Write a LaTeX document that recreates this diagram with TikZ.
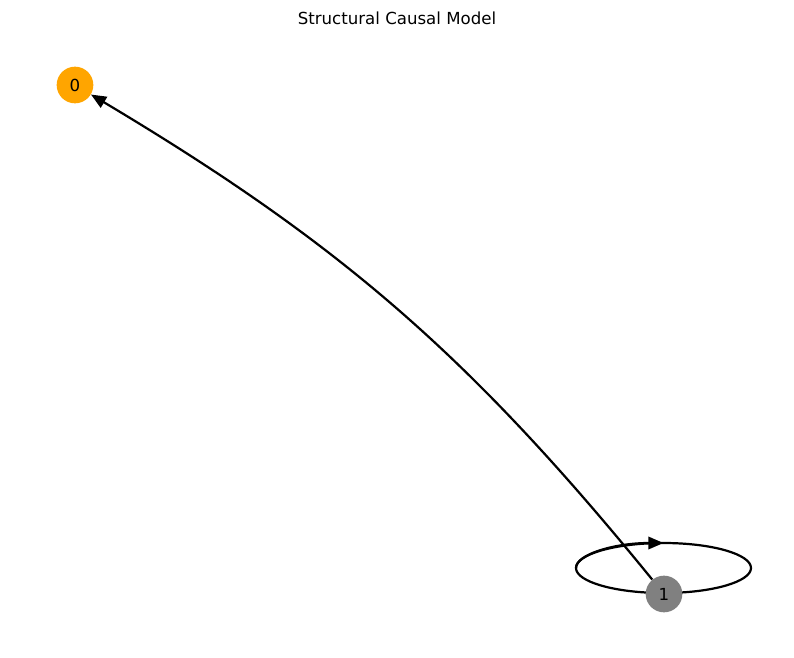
\documentclass[tikz,border=0pt]{standalone}
\usepackage{fontspec}
\setmainfont{DejaVu Sans}
\usepackage{tikz}
\usetikzlibrary{arrows.meta,backgrounds}

\definecolor{nxorange}{HTML}{FFA500}
\definecolor{nxgray}{HTML}{808080}

\begin{document}
\begin{tikzpicture} [x = 0.254mm, y = -0.254mm,
	var/.style = {circle,
		minimum size = 26.5pt,
		inner sep = 0pt,
		font = \fontsize{12}{14}\selectfont},
	link/.style = {line width = 1.6pt,
		-{Triangle[length = 11pt, width = 9pt]}}]

	\useasboundingbox (0,0) rectangle (794,658);

	\node (title) at (397,18) [font = \fontsize{12}{14}\selectfont] {Structural Causal Model};

	\node (n0) at (75,85) [var, fill = nxorange] {0};
	\node (n1) at (664,594) [var, fill = nxgray] {1};
	\coordinate (loop) at (663.5,568);

	\begin{pgfonlayer}{background}
		\draw [link] (n1) to [bend right = 10] (n0);
		\draw [line width = 1.6pt] (loop) ellipse [x radius = 87.5, y radius = 25];
		\draw [link] (loop) ++(-87.5,0) arc [start angle = 180, end angle = 270, x radius = 87.5, y radius = 25];
	\end{pgfonlayer}

\end{tikzpicture}
\end{document}
